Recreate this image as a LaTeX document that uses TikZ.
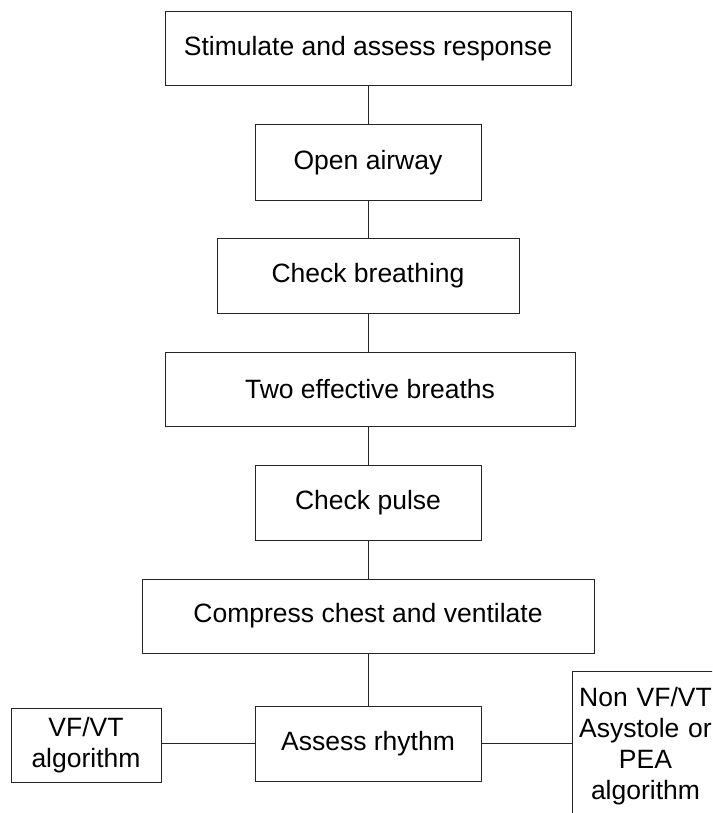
\documentclass[tikz,border=0pt]{standalone}
\usepackage{fontspec}
\setmainfont{Liberation Sans}
\begin{document}
\begin{tikzpicture}[x=1pt,y=-1pt,
  box/.style={draw=black!85, line width=1pt, inner sep=0pt, align=center,
    font=\fontsize{26.5}{31}\selectfont},
  link/.style={draw=black!85, line width=1pt}]
\useasboundingbox (0,0) rectangle (712,813);
\clip (0,0) rectangle (712,813);
\node[box, minimum width=406pt, minimum height=74pt] (b1) at (368,49) {Stimulate and assess response};
\node[box, minimum width=226pt, minimum height=75pt] (b2) at (368,162.5) {Open airway};
\node[box, minimum width=302pt, minimum height=75pt] (b3) at (368,275.5) {Check breathing};
\node[box, minimum width=410pt, minimum height=74pt] (b4) at (370,389) {Two effective breaths};
\node[box, minimum width=226pt, minimum height=75pt] (b5) at (368,502.5) {Check pulse};
\node[box, minimum width=452pt, minimum height=74pt] (b6) at (368,616) {Compress chest and ventilate};
\node[box, minimum width=226pt, minimum height=75pt] (b7) at (368,743.5) {Assess rhythm};
\node[box, minimum width=150pt, minimum height=74pt] (lft) at (86,745) {VF/VT\\algorithm};
\node[box, anchor=north west, text width=146pt, inner ysep=16pt] (rgt) at (572,671)
  {Non VF/VT\\Asystole or\\PEA\\algorithm};
\draw[link] (b1.south) -- (b2.north);
\draw[link] (b2.south) -- (b3.north);
\draw[link] (b3.south) -- (b3.south |- b4.north);
\draw[link] (b4.south -| b5.north) -- (b5.north);
\draw[link] (b5.south) -- (b6.north);
\draw[link] (b6.south) -- (b7.north);
\draw[link] (b7.west) -- (b7.west -| lft.east);
\draw[link] (b7.east) -- (b7.east -| rgt.west);
\end{tikzpicture}
\end{document}
